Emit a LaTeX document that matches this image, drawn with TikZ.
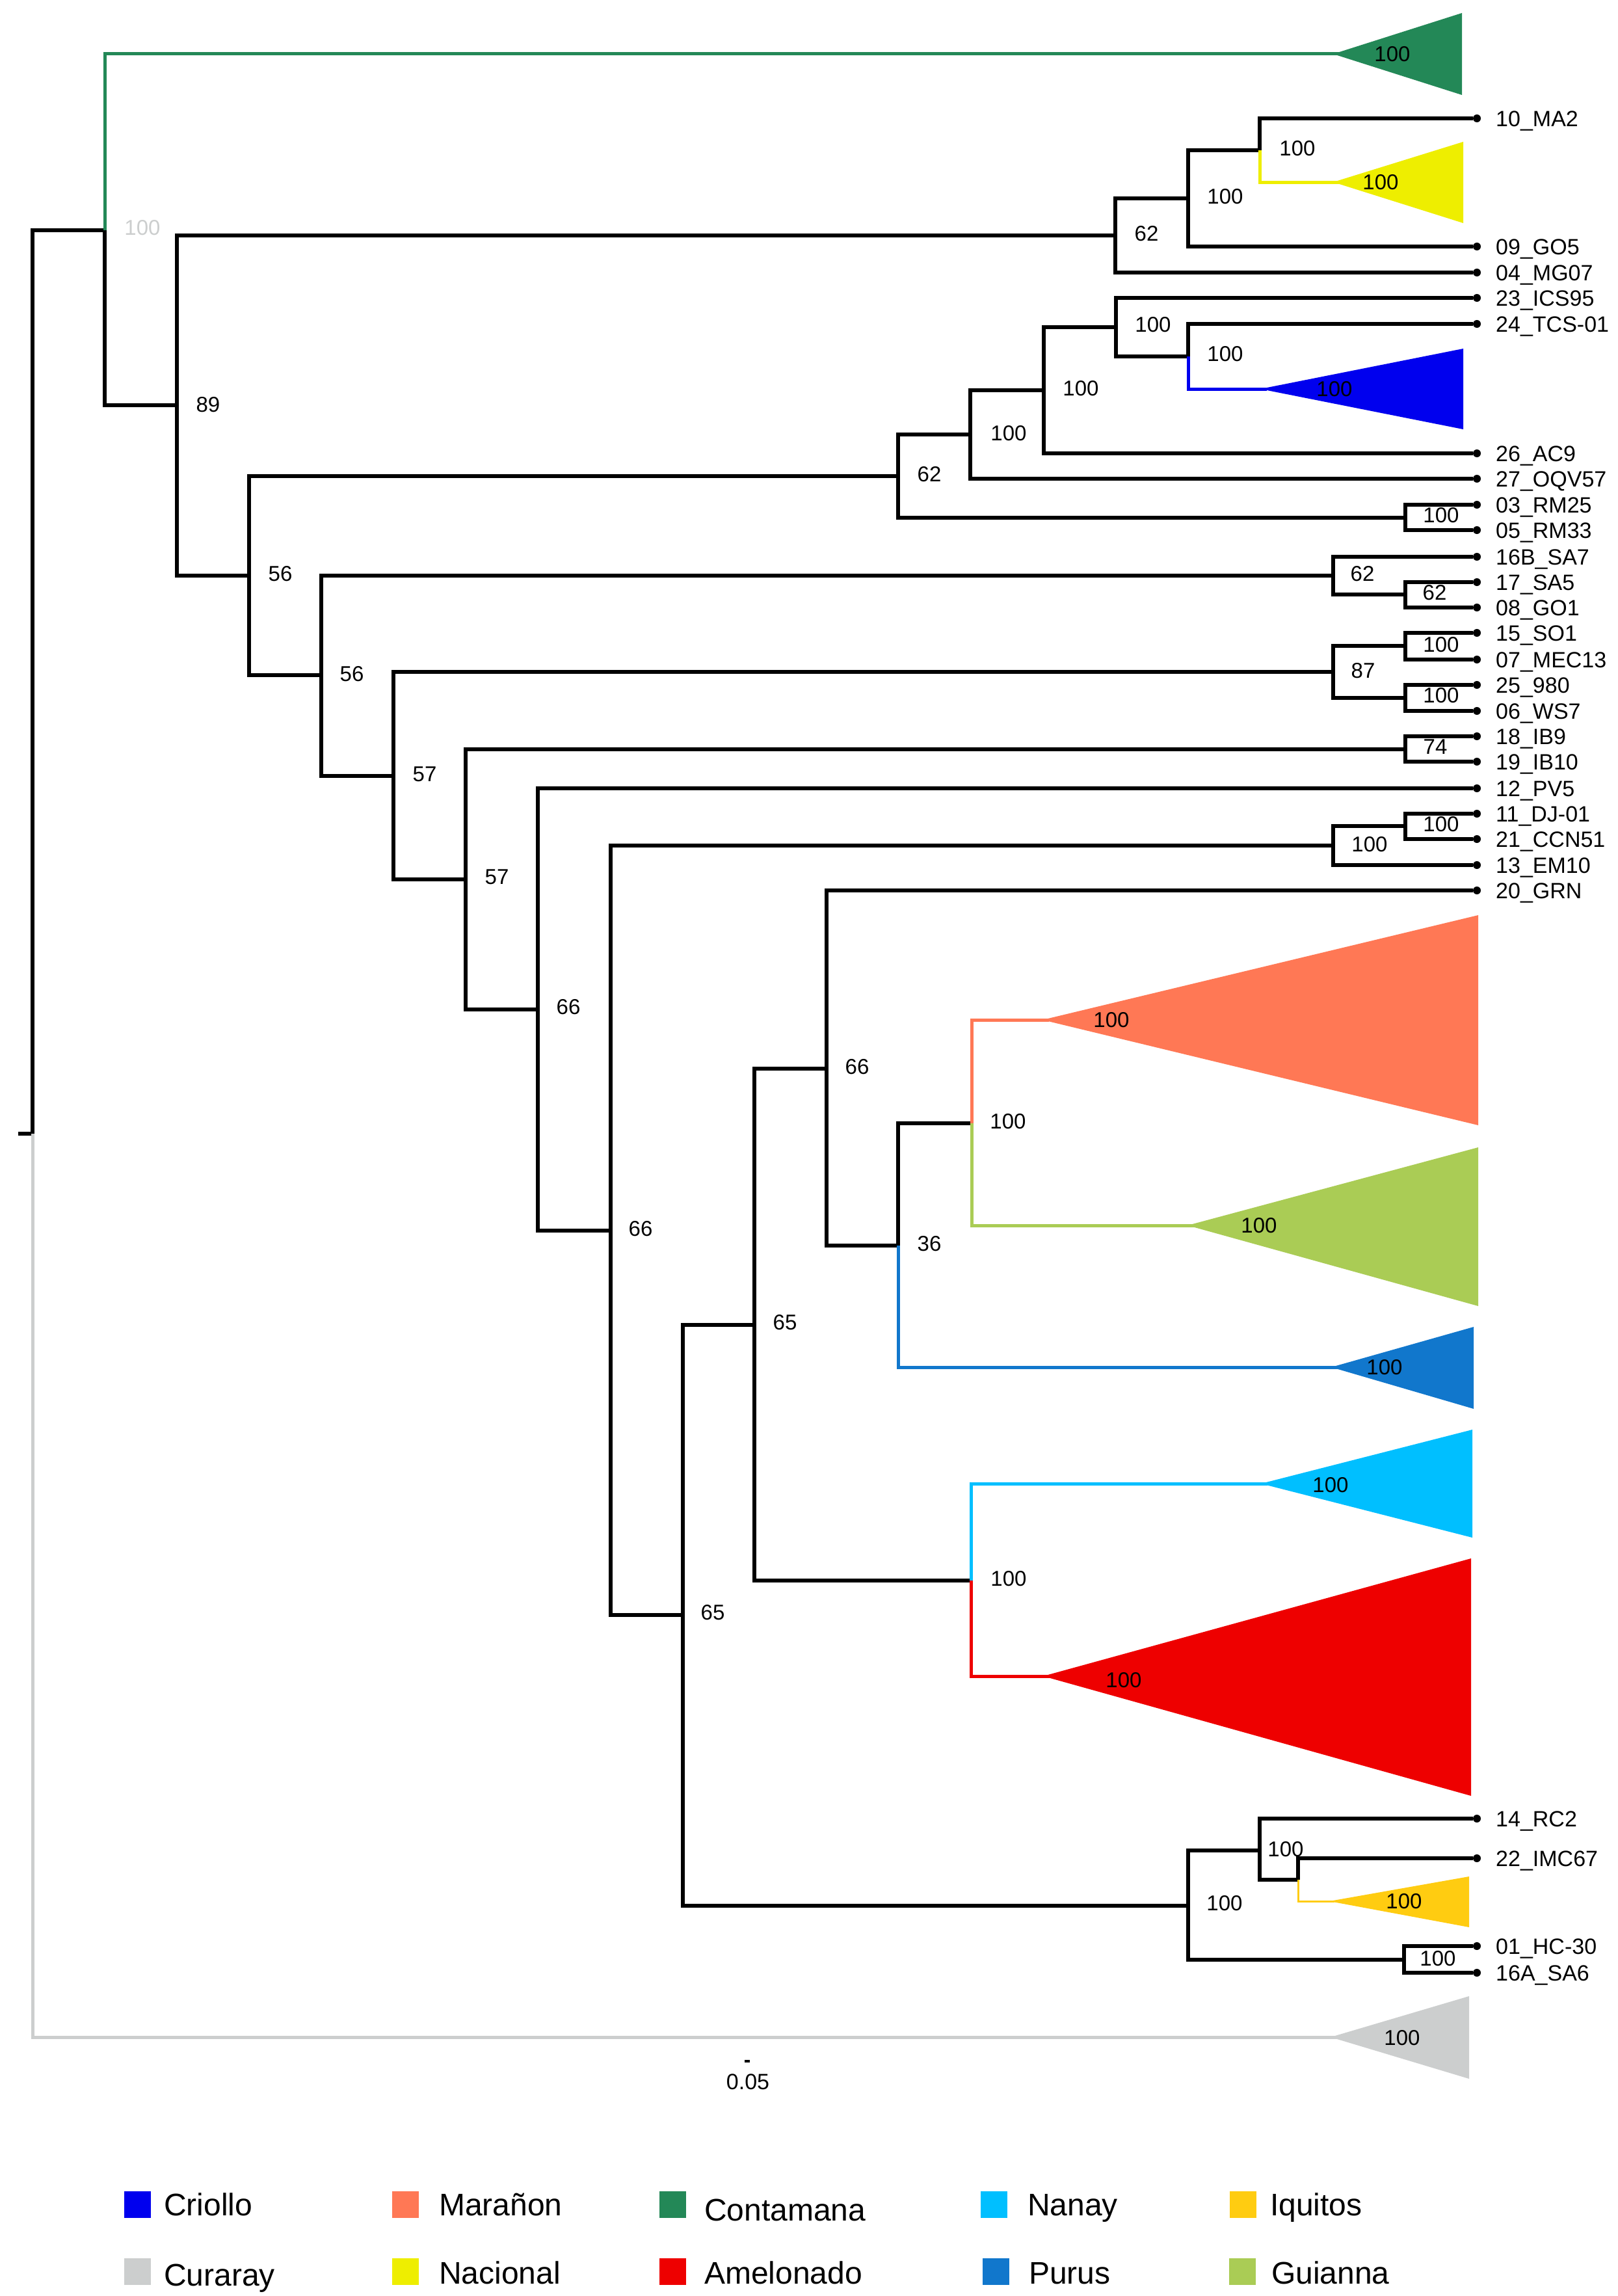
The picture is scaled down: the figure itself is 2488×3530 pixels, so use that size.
\documentclass[tikz,border=0pt]{standalone}
\usepackage{fontspec}
\setmainfont{Liberation Sans}
\definecolor{cContamana}{RGB}{35,136,87}
\definecolor{cNacional}{RGB}{238,238,0}
\definecolor{cCriollo}{RGB}{0,0,238}
\definecolor{cMaranon}{RGB}{255,120,85}
\definecolor{cGuianna}{RGB}{170,204,85}
\definecolor{cPurus}{RGB}{17,119,204}
\definecolor{cNanay}{RGB}{0,191,255}
\definecolor{cAmelonado}{RGB}{238,0,0}
\definecolor{cIquitos}{RGB}{255,204,17}
\definecolor{cCuraray}{RGB}{204,206,206}
\newcommand\fsz[1]{\fontsize{#1pt}{#1pt}\selectfont}
\newcommand\tipat[3]{\node[dotnode] (t#1) at (2271,#2) {}; \node[tiplab] (l#1) at (2300,#2) {#3};}
\begin{document}
\begin{tikzpicture}[x=1pt,y=-1pt,
  br/.style={line width=5.5pt, line join=miter},
  cbr/.style={line width=5pt, line join=miter, shorten >=-10pt},
  dotnode/.style={circle, fill=black, inner sep=0pt, minimum size=12pt},
  tiplab/.style={anchor=west, inner sep=0pt, font=\fsz{34}, text height=24pt, text depth=0pt},
  bs/.style={inner sep=0pt, font=\fsz{33}, text height=23.6pt, text depth=0pt},
  legbox/.style={inner sep=0pt, minimum width=41pt, minimum height=41pt},
  legtext/.style={anchor=base west, inner sep=0pt, font=\fsz{48}}]
\useasboundingbox (0,0) rectangle (2488,3530);

% internal nodes
\coordinate (R0) at (28,1743);
\coordinate (R) at (50,1743);
\coordinate (A1) at (161,354);
\coordinate (N89) at (272,623);
\coordinate (N62a) at (1715,362);
\coordinate (N100a) at (1827,305);
\coordinate (N100b) at (1937,231);
\coordinate (N56a) at (383,885);
\coordinate (N62b) at (1381,732);
\coordinate (N100c) at (1492,668);
\coordinate (N100d) at (1605,600);
\coordinate (N100e) at (1716,503);
\coordinate (N100f) at (1827,548);
\coordinate (N100r) at (2161,796);
\coordinate (N56b) at (494,1038);
\coordinate (N62c) at (2050,885);
\coordinate (N62d) at (2161,914);
\coordinate (N57a) at (605,1193);
\coordinate (N87) at (2050,1033);
\coordinate (N100g) at (2161,993);
\coordinate (N100h) at (2161,1073);
\coordinate (N57b) at (716,1352);
\coordinate (N74) at (2161,1152);
\coordinate (N66a) at (827,1552);
\coordinate (N66b) at (939,1892);
\coordinate (N100i) at (2050,1300);
\coordinate (N100j) at (2161,1270);
\coordinate (N65a) at (1050,2483);
\coordinate (N65b) at (1160,2037);
\coordinate (N66c) at (1271,1643);
\coordinate (N36) at (1381,1915);
\coordinate (N100m) at (1494,1727);
\coordinate (N100l) at (1493,2430);
\coordinate (N100k) at (1827,2930);
\coordinate (N100n) at (1937,2845);
\coordinate (N100p) at (1996,2890);
\coordinate (N100o) at (2159,3013);

% collapsed clade apexes
\coordinate (aCO) at (2050,83);
\coordinate (aNA) at (2050,280);
\coordinate (aCR) at (1938,598);
\coordinate (aMA) at (1603,1568);
\coordinate (aGU) at (1826,1884);
\coordinate (aPU) at (2047,2102);
\coordinate (aNY) at (1939,2281);
\coordinate (aAM) at (1604,2577);
\coordinate (aIQ) at (2044,2923);
\coordinate (aCU) at (2046,3132);

% triangles
\fill[cContamana] (aCO) -- (2248,20) -- (2248,146) -- cycle;
\fill[cNacional] (aNA) -- (2250,218) -- (2250,343) -- cycle;
\fill[cCriollo] (aCR) -- (2250,536) -- (2250,660) -- cycle;
\fill[cMaranon] (aMA) -- (2273,1407) -- (2273,1730) -- cycle;
\fill[cGuianna] (aGU) -- (2273,1764) -- (2273,2008) -- cycle;
\fill[cPurus] (aPU) -- (2266,2040) -- (2266,2166) -- cycle;
\fill[cNanay] (aNY) -- (2264,2198) -- (2264,2364) -- cycle;
\fill[cAmelonado] (aAM) -- (2262,2396) -- (2262,2761) -- cycle;
\fill[cIquitos] (aIQ) -- (2259,2885) -- (2259,2963) -- cycle;
\fill[cCuraray] (aCU) -- (2259,3069) -- (2259,3196) -- cycle;

% tips
\tipat{10}{182}{10\_MA2}
\tipat{09}{379}{09\_GO5}
\tipat{04}{419}{04\_MG07}
\tipat{23}{458}{23\_ICS95}
\tipat{24}{498}{24\_TCS-01}
\tipat{26}{697}{26\_AC9}
\tipat{27}{736}{27\_OQV57}
\tipat{03}{776}{03\_RM25}
\tipat{05}{815}{05\_RM33}
\tipat{16B}{856}{16B\_SA7}
\tipat{17}{895}{17\_SA5}
\tipat{08}{934}{08\_GO1}
\tipat{15}{973}{15\_SO1}
\tipat{07}{1014}{07\_MEC13}
\tipat{25}{1053}{25\_980}
\tipat{06}{1093}{06\_WS7}
\tipat{18}{1132}{18\_IB9}
\tipat{19}{1171}{19\_IB10}
\tipat{12}{1212}{12\_PV5}
\tipat{11}{1251}{11\_DJ-01}
\tipat{21}{1290}{21\_CCN51}
\tipat{13}{1330}{13\_EM10}
\tipat{20}{1369}{20\_GRN}
\tipat{14}{2796}{14\_RC2}
\tipat{22}{2857}{22\_IMC67}
\tipat{01}{2992}{01\_HC-30}
\tipat{16A}{3033}{16A\_SA6}

% black branches
\draw[br] (R0) -- (R);
\draw[br] (R) |- (A1);
\draw[br] (A1) |- (N89);
\draw[br] (N89) |- (N62a); \draw[br] (N89) |- (N56a);
\draw[br] (N62a) |- (N100a); \draw[br] (N62a) |- (t04);
\draw[br] (N100a) |- (N100b); \draw[br] (N100a) |- (t09);
\draw[br] (N100b) |- (t10);
\draw[br] (N56a) |- (N62b); \draw[br] (N56a) |- (N56b);
\draw[br] (N62b) |- (N100c); \draw[br] (N62b) |- (N100r);
\draw[br] (N100c) |- (N100d); \draw[br] (N100c) |- (t27);
\draw[br] (N100d) |- (N100e); \draw[br] (N100d) |- (t26);
\draw[br] (N100e) |- (t23); \draw[br] (N100e) |- (N100f);
\draw[br] (N100f) |- (t24);
\draw[br] (N100r) |- (t03); \draw[br] (N100r) |- (t05);
\draw[br] (N56b) |- (N62c); \draw[br] (N56b) |- (N57a);
\draw[br] (N62c) |- (t16B); \draw[br] (N62c) |- (N62d);
\draw[br] (N62d) |- (t17); \draw[br] (N62d) |- (t08);
\draw[br] (N57a) |- (N87); \draw[br] (N57a) |- (N57b);
\draw[br] (N87) |- (N100g); \draw[br] (N87) |- (N100h);
\draw[br] (N100g) |- (t15); \draw[br] (N100g) |- (t07);
\draw[br] (N100h) |- (t25); \draw[br] (N100h) |- (t06);
\draw[br] (N57b) |- (N74); \draw[br] (N57b) |- (N66a);
\draw[br] (N74) |- (t18); \draw[br] (N74) |- (t19);
\draw[br] (N66a) |- (t12); \draw[br] (N66a) |- (N66b);
\draw[br] (N66b) |- (N100i); \draw[br] (N66b) |- (N65a);
\draw[br] (N100i) |- (N100j); \draw[br] (N100i) |- (t13);
\draw[br] (N100j) |- (t11); \draw[br] (N100j) |- (t21);
\draw[br] (N65a) |- (N65b); \draw[br] (N65a) |- (N100k);
\draw[br] (N65b) |- (N66c); \draw[br] (N65b) |- (N100l);
\draw[br] (N66c) |- (t20); \draw[br] (N66c) |- (N36);
\draw[br] (N36) |- (N100m);
\draw[br] (N100k) |- (N100n); \draw[br] (N100k) |- (N100o);
\draw[br] (N100n) |- (t14); \draw[br] (N100n) |- (N100p);
\draw[br] (N100p) |- (t22);
\draw[br] (N100o) |- (t01); \draw[br] (N100o) |- (t16A);

% coloured branches
\draw[cbr, cContamana] (A1) |- (aCO);
\draw[cbr, cCuraray] (R) |- (aCU);
\draw[cbr, cNacional] (N100b) |- (aNA);
\draw[cbr, cCriollo] (N100f) |- (aCR);
\draw[cbr, cPurus] (N36) |- (aPU);
\draw[cbr, cMaranon] (N100m) |- (aMA);
\draw[cbr, cGuianna] (N100m) |- (aGU);
\draw[cbr, cNanay] (N100l) |- (aNY);
\draw[cbr, cAmelonado] (N100l) |- (aAM);
\draw[line width=3pt, cIquitos, shorten >=-8pt] (N100p) |- (aIQ);

% clade support labels
\node[bs] (bCO) at (2141,83) {100};
\node[bs] (bNA) at (2123,280) {100};
\node[bs] (bCR) at (2052,598) {100};
\node[bs] (bMA) at (1709,1568) {100};
\node[bs] (bGU) at (1936,1884) {100};
\node[bs] (bPU) at (2129,2102) {100};
\node[bs] (bNY) at (2046,2283) {100};
\node[bs] (bAM) at (1728,2583) {100};
\node[bs] (bIQ) at (2159,2923) {100};
\node[bs] (bCU) at (2156,3133) {100};

% node support labels
\node[bs, text=cCuraray] (sA1) at (219,350) {100};
\node[bs] (s89) at (320,622) {89};
\node[bs] (s56a) at (431,882) {56};
\node[bs] (s56b) at (541,1036) {56};
\node[bs] (s57a) at (653,1190) {57};
\node[bs] (s57b) at (764,1348) {57};
\node[bs] (s66a) at (874,1548) {66};
\node[bs] (s66b) at (985,1889) {66};
\node[bs] (s65a) at (1096,2479) {65};
\node[bs] (s65b) at (1207,2033) {65};
\node[bs] (s66c) at (1318,1640) {66};
\node[bs] (s36) at (1429,1912) {36};
\node[bs] (s100m) at (1550,1724) {100};
\node[bs] (s100l) at (1551,2427) {100};
\node[bs] (s100k) at (1883,2926) {100};
\node[bs] (s100n) at (1977,2843) {100};
\node[bs] (s100o) at (2211,3011) {100};
\node[bs] (s62a) at (1763,359) {62};
\node[bs] (s100a) at (1884,302) {100};
\node[bs] (s100b) at (1995,228) {100};
\node[bs] (s62b) at (1429,729) {62};
\node[bs] (s100c) at (1551,666) {100};
\node[bs] (s100d) at (1662,597) {100};
\node[bs] (s100e) at (1773,499) {100};
\node[bs] (s100f) at (1884,544) {100};
\node[bs] (s100r) at (2216,792) {100};
\node[bs] (s62c) at (2095,882) {62};
\node[bs] (s62d) at (2206,911) {62};
\node[bs] (s100g) at (2216,991) {100};
\node[bs] (s87) at (2096,1031) {87};
\node[bs] (s100h) at (2216,1069) {100};
\node[bs] (s74) at (2207,1148) {74};
\node[bs] (s100j) at (2216,1267) {100};
\node[bs] (s100i) at (2106,1298) {100};

% scale bar
\coordinate (sb1) at (1145,3169);
\coordinate (sb2) at (1153,3169);
\draw[line width=4pt] (sb1) -- (sb2);
\node[bs, font=\fsz{34}] (sbl) at (1150,3201) {0.05};

% legend
\node[legbox, fill=cCriollo] (kCriollo) at (211.5,3389.5) {};
\node[legtext] (tCriollo) at (252,3406) {Criollo};
\node[legbox, fill=cMaranon] (kMaranon) at (623.5,3389.5) {};
\node[legtext] (tMaranon) at (675,3406) {Marañon};
\node[legbox, fill=cContamana] (kContamana) at (1034,3389.5) {};
\node[legtext] (tContamana) at (1083,3414) {Contamana};
\node[legbox, fill=cNanay] (kNanay) at (1528.5,3389.5) {};
\node[legtext] (tNanay) at (1580,3406) {Nanay};
\node[legbox, fill=cIquitos] (kIquitos) at (1911,3389.5) {};
\node[legtext] (tIquitos) at (1953,3406) {Iquitos};
\node[legbox, fill=cCuraray] (kCuraray) at (211.5,3492) {};
\node[legtext] (tCuraray) at (252,3514) {Curaray};
\node[legbox, fill=cNacional] (kNacional) at (623.5,3492) {};
\node[legtext] (tNacional) at (675,3511) {Nacional};
\node[legbox, fill=cAmelonado] (kAmelonado) at (1034,3492) {};
\node[legtext] (tAmelonado) at (1083,3511) {Amelonado};
\node[legbox, fill=cPurus] (kPurus) at (1531,3492) {};
\node[legtext] (tPurus) at (1582,3511) {Purus};
\node[legbox, fill=cGuianna] (kGuianna) at (1910,3492) {};
\node[legtext] (tGuianna) at (1955,3511) {Guianna};
\end{tikzpicture}
\end{document}
